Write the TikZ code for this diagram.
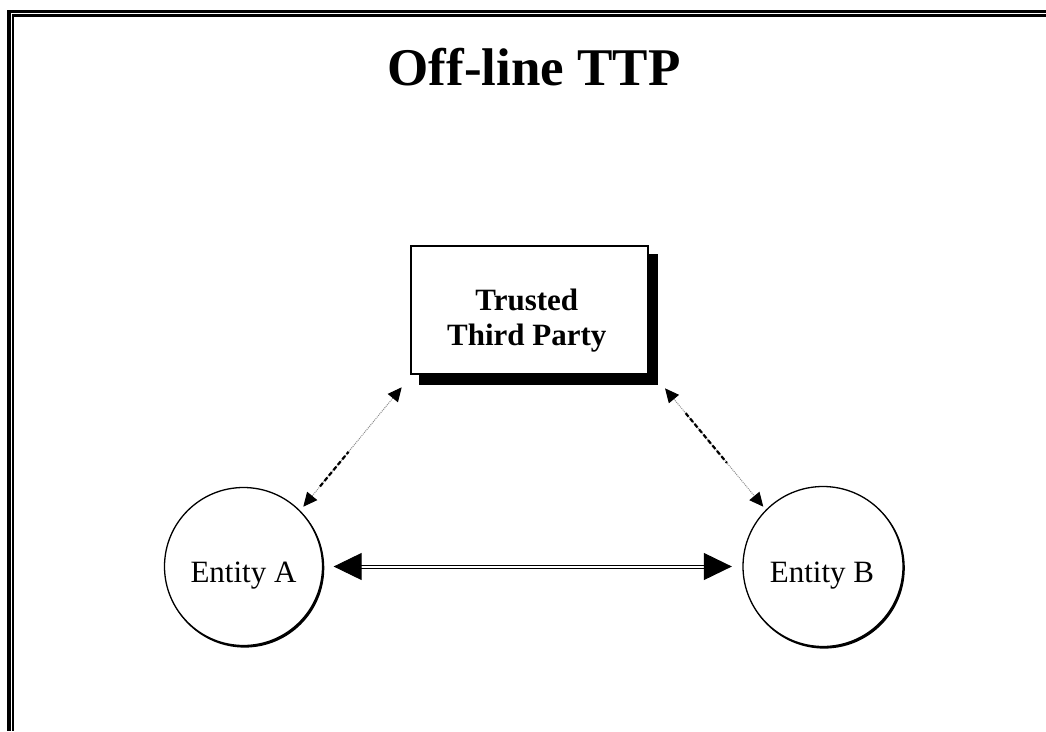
\documentclass[tikz,border=0pt]{standalone}
\usepackage{fontspec}
\setmainfont{Liberation Serif}
\usetikzlibrary{arrows.meta,calc}

\tikzset{
  entity/.style={circle, draw=black, line width=1.3pt, fill=white,
    minimum size=158pt, inner sep=0pt},
  entitytext/.style={anchor=base, inner sep=0pt,
    font=\fontsize{31}{36}\selectfont},
  ttpbox/.style={rectangle, draw=black, line width=1.3pt, fill=white,
    minimum width=237pt, minimum height=128pt, inner sep=0pt},
  ttptext/.style={align=center, inner sep=0pt,
    font=\fontsize{31}{35}\selectfont\bfseries},
  dblarrow/.style={draw=black, line width=1pt, double=white, double distance=2pt,
    {Triangle[length=28pt,width=27pt]}-{Triangle[length=28pt,width=27pt]}},
  dotlink/.style={draw=black!45, line width=1pt, dash pattern=on 1pt off 1pt,
    {Triangle[length=14pt,width=13pt,color=black]}-{Triangle[length=14pt,width=13pt,color=black]}},
  dashpart/.style={draw=black, line width=2.2pt, dash pattern=on 4.5pt off 2.5pt},
  frameline/.style={fill=black},
}

\begin{document}
\begin{tikzpicture}[x=1pt,y=-1pt]
  \useasboundingbox (0,0) rectangle (1046,731);

  % page frame: thick outer rule and thin inner rule (top and left)
  \fill[frameline] (7,10) rectangle (1046,12.7);
  \fill[frameline] (7,10) rectangle (11,731);
  \fill[frameline] (12,13.7) rectangle (1046,16.7);
  \fill[frameline] (12,13.7) rectangle (14,731);

  % title
  \node[inner sep=0pt, anchor=base, font=\fontsize{53}{60}\selectfont\bfseries]
    (title) at (534,85) {Off-line TTP};

  % trusted third party box with drop shadow
  \coordinate (ttpc) at (529.5,310);
  \fill[black] ($(ttpc)+(-110.5,-56)$) rectangle ($(ttpc)+(128.5,75)$);
  \node[ttpbox] (ttp) at (ttpc) {};
  \node[ttptext] (ttplabel) at (526.8,320.3) {Trusted\\Third Party};

  % entities with a slight shadow on the lower right
  \fill[black] (244.7,568) circle (79.6pt);
  \node[entity] (A) at (243.5,566.5) {};
  \node[entitytext] (Alabel) at (243.5,582.7) {Entity A};

  \fill[black] (824.2,568) circle (80.6pt);
  \node[entity, minimum size=160pt] (B) at (823,566.5) {};
  \node[entitytext] (Blabel) at (822,582.7) {Entity B};

  % direct exchange between the entities
  \draw[dblarrow, shorten <=10.5pt, shorten >=10.5pt] (A) -- (B);

  % off-line links to the trusted third party
  \coordinate (la) at (303.3,506.7);
  \coordinate (lt) at (401.7,387.3);
  \coordinate (rt) at (665,388.3);
  \coordinate (rb) at (763.3,506.7);

  \draw[dotlink] (la) -- (lt);
  \draw[dashpart] ($(la)!0.17!(lt)$) -- ($(la)!0.46!(lt)$);

  \draw[dotlink] (rt) -- (rb);
  \draw[dashpart] ($(rt)!0.21!(rb)$) -- ($(rt)!0.63!(rb)$);
\end{tikzpicture}
\end{document}
